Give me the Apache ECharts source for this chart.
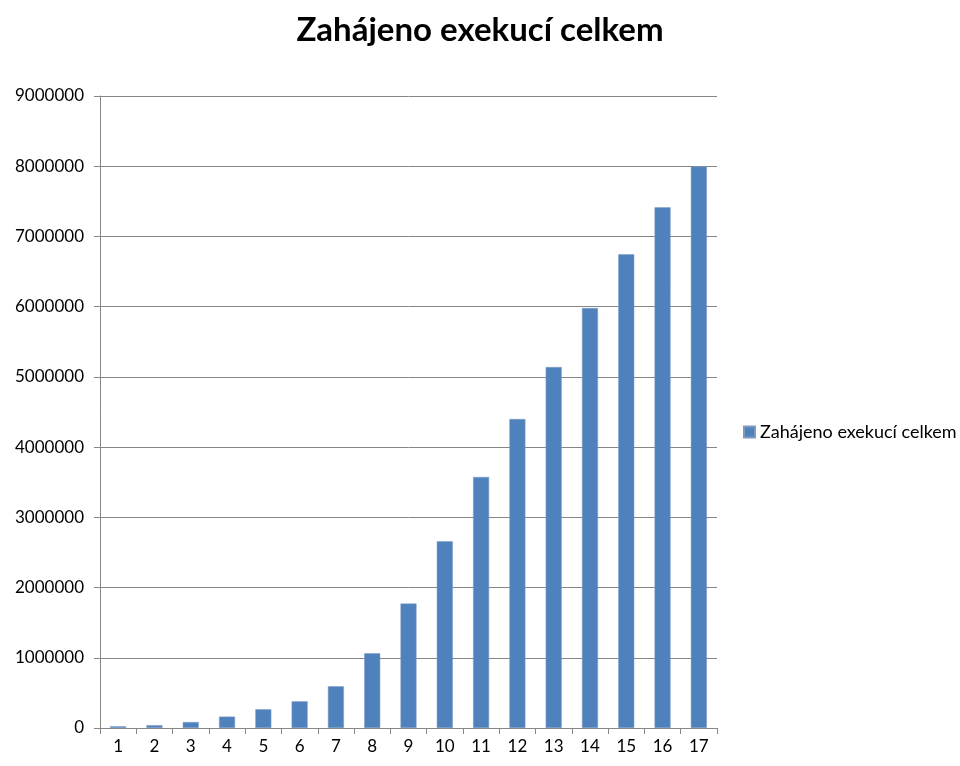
<!DOCTYPE html>
<html>
<head>
<meta charset="utf-8">
<script src="https://cdn.jsdelivr.net/npm/echarts@6/dist/echarts.min.js"></script>
<style>
  html, body { margin: 0; padding: 0; background: #fff; }
  #chart { width: 960px; height: 766px; }
</style>
</head>
<body>
<div id="chart"></div>
<script>
const categories = ['1', '2', '3', '4', '5', '6', '7', '8', '9', '10', '11', '12', '13', '14', '15', '16', '17']
const seriesName = 'Zahájeno exekucí celkem'
const values = [25000, 40000, 85000, 162000, 267000, 380000, 594000, 1064000, 1772000,
  2660000, 3575000, 4400000, 5140000, 5980000, 6745000, 7415000, 7995000]

const chart = echarts.init(document.getElementById('chart'))

const option = {
  animation: false,
  title: {
    text: 'Zahájeno exekucí celkem',
    left: 'center',
    top: 9,
    textStyle: {
      fontFamily: 'Lato',
      fontWeight: 'bold',
      fontSize: 33,
      color: '#000'
    }
  },
  legend: {
    data: [seriesName],
    orient: 'vertical',
    left: 738,
    top: 418,
    itemWidth: 11,
    itemHeight: 11,
    itemGap: 4,
    icon: 'rect',
    textStyle: {
      fontFamily: 'Lato',
      fontSize: 18,
      color: '#000'
    }
  },
  grid: {
    left: 100,
    right: 243,
    top: 96,
    bottom: 38
  },
  xAxis: {
    type: 'category',
    data: categories,
    axisLine: { lineStyle: { color: '#868686', width: 1 } },
    axisTick: { show: true, length: 6, lineStyle: { color: '#868686' } },
    axisLabel: {
      fontFamily: 'Lato',
      fontSize: 17,
      color: '#000',
      margin: 10
    }
  },
  yAxis: {
    type: 'value',
    min: 0,
    max: 9000000,
    interval: 1000000,
    axisLine: { show: true, lineStyle: { color: '#868686', width: 1 } },
    axisTick: { show: true, length: 6, lineStyle: { color: '#868686' } },
    splitLine: { lineStyle: { color: '#868686', width: 1 } },
    axisLabel: {
      fontFamily: 'Lato',
      fontSize: 17,
      color: '#000',
      margin: 16,
      formatter: (value) => String(value)
    }
  },
  series: [
    {
      name: seriesName,
      type: 'bar',
      data: values,
      barWidth: 16,
      itemStyle: {
        color: '#4F81BD',
        borderColor: '#7d9cc4',
        borderWidth: 0.5
      }
    }
  ]
}

chart.setOption(option)
</script>
</body>
</html>
